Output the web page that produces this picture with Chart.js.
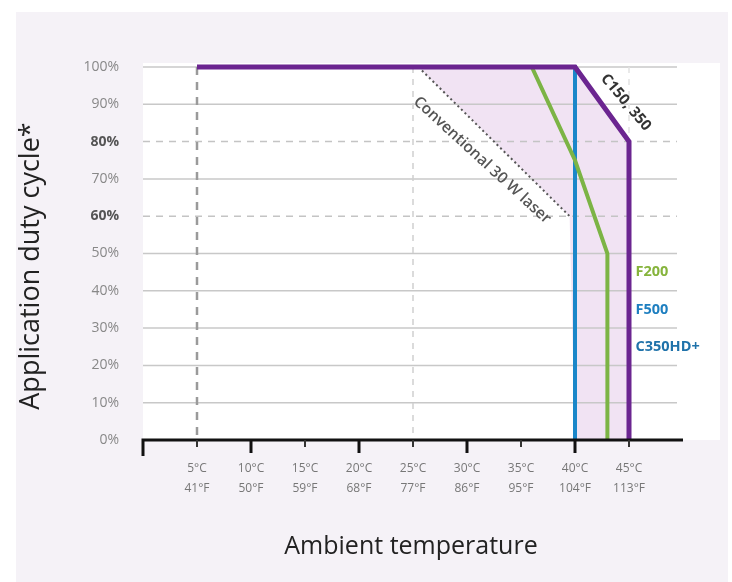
<!DOCTYPE html>
<html>
<head>
<meta charset="utf-8">
<script src="https://cdn.jsdelivr.net/npm/chart.js@4.4.0/dist/chart.umd.min.js"></script>
<style>
  html, body { margin: 0; padding: 0; background: #fff; }
  #wrap { width: 732px; height: 582px; }
</style>
</head>
<body>
<div id="wrap"><canvas id="chDuty" width="732" height="582"></canvas></div>
<script>
// tick labels
var tempC = [5, 10, 15, 20, 25, 30, 35, 40, 45];
var tempF = [41, 50, 59, 68, 77, 86, 95, 104, 113];
var dutyTicks = [0, 10, 20, 30, 40, 50, 60, 70, 80, 90, 100];

// series (temperature degC, duty cycle %)
var purpleX = [5, 40, 45, 45];
var purpleY = [100, 100, 80, 0];
var blueX = [5, 40, 40];
var blueY = [100, 100, 0];
var greenX = [5, 36, 40, 43, 43];
var greenY = [100, 100, 75, 50, 0];
var convX = [25.5, 39.5];
var convY = [100, 60];

var colors = { purple: "#6b2590", blue: "#1b87c9", green: "#7cb445", conv: "#555555" };

function pts(xs, ys) {
  return xs.map(function (x, i) { return { x: x, y: ys[i] }; });
}

// shaded area: between the conventional laser line and the C150/350 line
function shadePoints() {
  var p = pts(purpleX, purpleY).filter(function (q) { return q.x > convX[0]; });
  var out = [{ x: convX[0], y: convY[0] }].concat(p);
  out.push({ x: blueX[blueX.length - 1], y: blueY[blueY.length - 1] });
  for (var i = convX.length - 1; i >= 0; i--) out.push({ x: convX[i], y: convY[i] });
  return out;
}

var background = {
  id: "background",
  beforeDraw: function (chart) {
    var c = chart.ctx;
    var a = chart.chartArea;
    c.save();
    c.fillStyle = "#ffffff";
    c.fillRect(0, 0, chart.width, chart.height);
    c.fillStyle = "#f5f2f7";
    c.fillRect(16, 12, 712, 570);
    c.fillStyle = "#ffffff";
    c.fillRect(a.left, a.top - 4, 720 - a.left, a.bottom - a.top + 4);
    c.restore();
  },
  beforeDatasetsDraw: function (chart) {
    var c = chart.ctx;
    var xs = chart.scales.x, ys = chart.scales.y;
    var a = chart.chartArea;
    c.save();
    // shade
    var sp = shadePoints();
    c.beginPath();
    sp.forEach(function (q, i) {
      var px = xs.getPixelForValue(q.x), py = ys.getPixelForValue(q.y);
      if (i === 0) c.moveTo(px, py); else c.lineTo(px, py);
    });
    c.closePath();
    c.fillStyle = "rgba(205,150,210,0.27)";
    c.fill();
    // horizontal grid
    dutyTicks.forEach(function (v) {
      if (v === 0) return;
      var py = ys.getPixelForValue(v);
      c.beginPath();
      c.lineWidth = 1.5;
      if (v === 80 || v === 60) { c.setLineDash([7, 6]); c.strokeStyle = "#c4c4c4"; }
      else { c.setLineDash([]); c.strokeStyle = "#c8c8c8"; }
      c.moveTo(a.left, py);
      c.lineTo(a.right - 6, py);
      c.stroke();
    });
    // vertical dashed lines
    var vlines = [
      { v: 5, color: "#9a9a9a", w: 2.5, dash: [8, 7] },
      { v: 25, color: "#d0d0d0", w: 1.5, dash: [6, 6] },
      { v: 45, color: "#e2e2e2", w: 1.5, dash: [6, 6] }
    ];
    vlines.forEach(function (l) {
      var px = xs.getPixelForValue(l.v);
      c.beginPath();
      c.setLineDash(l.dash);
      c.strokeStyle = l.color;
      c.lineWidth = l.w;
      c.moveTo(px, ys.getPixelForValue(100));
      c.lineTo(px, ys.getPixelForValue(0));
      c.stroke();
    });
    c.restore();
  },
  afterDatasetsDraw: function (chart) {
    var c = chart.ctx;
    var xs = chart.scales.x, ys = chart.scales.y;
    var y0 = ys.getPixelForValue(0);
    c.save();
    // x axis line
    c.setLineDash([]);
    c.strokeStyle = "#111";
    c.lineWidth = 3;
    c.beginPath();
    c.moveTo(xs.getPixelForValue(0), y0 + 16);
    c.lineTo(xs.getPixelForValue(0), y0);
    c.lineTo(xs.getPixelForValue(50), y0);
    c.stroke();
    tempC.forEach(function (v) {
      var px = xs.getPixelForValue(v);
      var major = v % 10 === 0;
      c.beginPath();
      c.lineWidth = major ? 3 : 2;
      c.strokeStyle = major ? "#111" : "#333";
      c.moveTo(px, y0);
      c.lineTo(px, y0 + (major ? 13 : 7));
      c.stroke();
    });
    // annotations
    function label(text, x, y, rot, font, color, align) {
      c.save();
      c.translate(xs.getPixelForValue(x), ys.getPixelForValue(y));
      c.rotate(rot * Math.PI / 180);
      c.font = font;
      c.fillStyle = color;
      c.textAlign = align || "center";
      c.textBaseline = "middle";
      c.fillText(text, 0, 0);
      c.restore();
    }
    label("C150, 350", 44.7, 90.5, 50, "bold 15px 'Open Sans'", "#333", "center");
    label("Conventional 30 W laser", 31.4, 75, 42.5, "600 15.5px 'Open Sans'", "#555", "center");
    label("F200", 45.6, 45, 0, "bold 14.5px 'Open Sans'", "#86b43c", "left");
    label("F500", 45.6, 35, 0, "bold 14.5px 'Open Sans'", "#1e7fc0", "left");
    label("C350HD+", 45.6, 25, 0, "bold 14.5px 'Open Sans'", "#1f72aa", "left");
    // axis titles
    c.fillStyle = "#222";
    c.textAlign = "center";
    c.textBaseline = "middle";
    c.font = "25px 'Open Sans'";
    c.fillText("Ambient temperature", 411, 547);
    c.save();
    c.translate(31, 266);
    c.rotate(-Math.PI / 2);
    c.font = "27px 'Open Sans'";
    c.fillText("Application duty cycle*", 0, 0);
    c.restore();
    c.restore();
  }
};

function lineSet(label, xs, ys, color, width, order, dash) {
  return {
    label: label,
    data: pts(xs, ys),
    borderColor: color,
    borderWidth: width,
    borderDash: dash || [],
    borderJoinStyle: "miter",
    borderCapStyle: "butt",
    pointRadius: 0,
    fill: false,
    tension: 0,
    clip: false,
    order: order
  };
}

var chDuty = document.getElementById("chDuty");
if (chDuty) {
  this.c1 = new Chart(chDuty, {
    type: "line",
    data: {
      datasets: [
        lineSet("C150, 350", purpleX, purpleY, colors.purple, 5, 0),
        lineSet("F200", greenX, greenY, colors.green, 4, 1),
        lineSet("F500 / C350HD+", blueX, blueY, colors.blue, 4, 2),
        lineSet("Conventional 30 W laser", convX, convY, colors.conv, 2, 3, [2, 3])
      ]
    },
    options: {
      responsive: false,
      animation: false,
      layout: { padding: { top: 67, right: 49, left: 0, bottom: 0 } },
      plugins: { legend: { display: false }, tooltip: { enabled: false } },
      scales: {
        x: {
          type: "linear",
          min: 0,
          max: 50,
          afterFit: function (s) { s.height = 142; },
          afterBuildTicks: function (s) {
            s.ticks = tempC.map(function (v) { return { value: v }; });
          },
          grid: { display: false },
          border: { display: false },
          ticks: {
            autoSkip: false,
            maxRotation: 0,
            padding: 10,
            color: "#777",
            font: { family: "'Open Sans'", size: 12, lineHeight: 1.7 },
            callback: function (v, i) { return [tempC[i] + "°C", tempF[i] + "°F"]; }
          }
        },
        y: {
          min: 0,
          max: 100,
          afterFit: function (s) { s.width = 143; },
          afterBuildTicks: function (s) {
            s.ticks = dutyTicks.map(function (v) { return { value: v }; });
          },
          grid: { display: false },
          border: { display: false },
          ticks: {
            padding: 16,
            color: function (ctx) { return ctx.tick.value === 80 || ctx.tick.value === 60 ? "#555" : "#888"; },
            font: function (ctx) {
              var b = ctx.tick && (ctx.tick.value === 80 || ctx.tick.value === 60);
              return { family: "'Open Sans'", size: 14, weight: b ? "bold" : "normal" };
            },
            callback: function (v) { return v + "%"; }
          }
        }
      }
    },
    plugins: [background]
  });
}
</script>
</body>
</html>
